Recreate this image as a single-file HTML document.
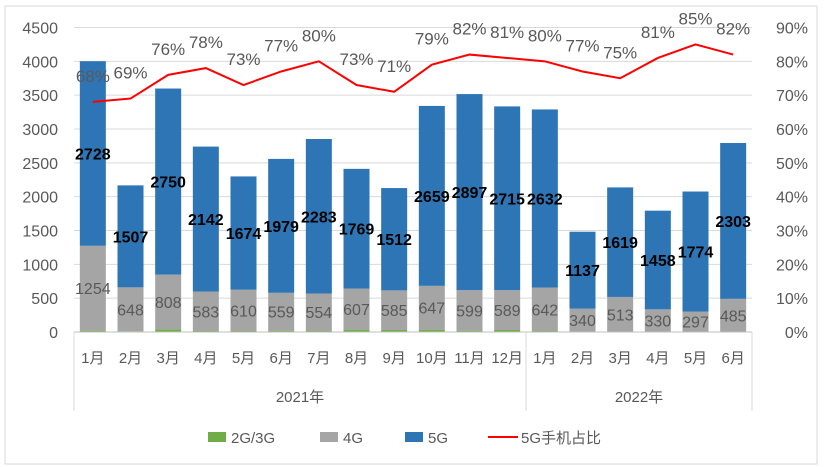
<!DOCTYPE html>
<html><head><meta charset="utf-8"><style>
body{margin:0;background:#fff}
svg{display:block;font-family:"Liberation Sans","Noto Sans CJK SC",sans-serif}
</style></head><body>
<svg id="c" width="840" height="467">
<rect x="5" y="6" width="812" height="458" fill="#fff" stroke="#d9d9d9"/>
<g id="grid"></g><g id="bars"></g><g id="line"></g><g id="labels"></g><g id="axes"></g>
<g id="legend">
<rect x="208" y="432" width="18" height="10" fill="#70ad47"/>
<text x="231" y="443" font-size="15" fill="#595959">2G/3G</text>
<rect x="320" y="432" width="18" height="10" fill="#a5a5a5"/>
<text x="343" y="443" font-size="15" fill="#595959">4G</text>
<rect x="405" y="432" width="18" height="10" fill="#2e75b6"/>
<text x="428" y="443" font-size="15" fill="#595959">5G</text>
<line x1="488" y1="437" x2="518" y2="437" stroke="#ff0000" stroke-width="2"/>
<text x="521" y="443" font-size="15" fill="#595959">5G手机占比</text>
</g>
</svg>
<script>
const months=["1月","2月","3月","4月","5月","6月","7月","8月","9月","10月","11月","12月","1月","2月","3月","4月","5月","6月"];
const years=["2021年","2022年"];
const yearCounts=[12,6];
const g23=[20,12,40,15,15,20,15,35,30,35,20,30,15,5,5,5,5,5];
const g4=[1254,648,808,583,610,559,554,607,585,647,599,589,642,340,513,330,297,485];
const g5=[2728,1507,2750,2142,1674,1979,2283,1769,1512,2659,2897,2715,2632,1137,1619,1458,1774,2303];
const share=[68,69,76,78,73,77,80,73,71,79,82,81,80,77,75,81,85,82];
const leftTicks=[0,500,1000,1500,2000,2500,3000,3500,4000,4500];
const rightTicks=[0,10,20,30,40,50,60,70,80,90];
const NS="http://www.w3.org/2000/svg";
const X0=74,X1=752,Y0=332,Y1=27.5,BW=26;
const step=(X1-X0)/months.length;
const xc=i=>X0+step*(i+0.5);
const yL=v=>Y0-(v/4500)*(Y0-Y1);
const yR=v=>Y0-(v/90)*(Y0-Y1);
function mk(parent,tag,attrs,text){const e=document.createElementNS(NS,tag);for(const k in attrs)e.setAttribute(k,attrs[k]);if(text!==undefined)e.textContent=text;document.getElementById(parent).appendChild(e);return e;}
leftTicks.forEach((t,i)=>{
  if(t>0){const l=mk("grid","line",{x1:X0,x2:X1,y1:yL(t),y2:yL(t),stroke:"#d9d9d9","stroke-width":1});
  
  }
  const tx=mk("axes","text",{x:58,y:yL(t)+6,"font-size":16,fill:"#595959","text-anchor":"end"},t);
  
  
});
rightTicks.forEach(t=>{
  const tx=mk("axes","text",{x:808,y:yR(t)+6,"font-size":16,fill:"#595959","text-anchor":"end"},t+"%");
  
  
});
const ax=mk("axes","line",{x1:X0,x2:X1,y1:Y0,y2:Y0,stroke:"#bfbfbf"});


let acc=0;
[0].concat(yearCounts).forEach((c,k)=>{acc+=c;const xx=X0+step*acc;
  const d=mk("axes","line",{x1:xx,x2:xx,y1:Y0,y2:411,stroke:"#d9d9d9"});
  
  });
acc=0;
years.forEach((y,k)=>{const mid=X0+step*(acc+yearCounts[k]/2);acc+=yearCounts[k];
  const t=mk("axes","text",{x:mid,y:402,"font-size":15,fill:"#595959","text-anchor":"middle"},y);
  
  });
months.forEach((m,i)=>{
  const x=xc(i);
  const t=mk("axes","text",{x:x,y:363,"font-size":15,fill:"#595959","text-anchor":"middle"},m);
  
  
  const a=g23[i],b=g4[i],c=g5[i];
  const r1=mk("bars","rect",{x:x-BW/2,y:yL(a),width:BW,height:Y0-yL(a),fill:"#70ad47"});
  
  
  const r2=mk("bars","rect",{x:x-BW/2,y:yL(a+b),width:BW,height:yL(a)-yL(a+b),fill:"#a5a5a5"});
  
  
  const r3=mk("bars","rect",{x:x-BW/2,y:yL(a+b+c),width:BW,height:yL(a+b)-yL(a+b+c),fill:"#2e75b6"});
  
  
  const l4=mk("labels","text",{x:x,y:yL(a+b/2)+6,"font-size":16,fill:"#595959","text-anchor":"middle"},b);
  
  
  const l5=mk("labels","text",{x:x,y:yL(a+b+c/2)+6,"font-size":16,"font-weight":"bold",fill:"#000","text-anchor":"middle"},c);
  
  
  const lp=mk("labels","text",{x:x,y:yR(share[i])-20,"font-size":17,fill:"#595959","text-anchor":"middle"},share[i]+"%");
  
  
});
const pl=mk("line","polyline",{points:share.map((s,i)=>xc(i)+","+yR(s)).join(" "),fill:"none",stroke:"#ff0000","stroke-width":2});


</script>
</body></html>
